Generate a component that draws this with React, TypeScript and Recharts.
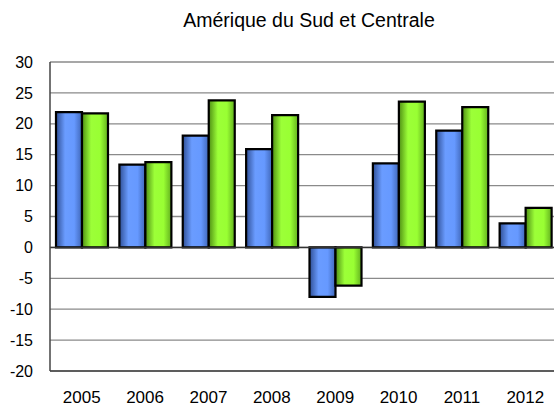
import React from 'react';
import { BarChart, Bar, XAxis, YAxis, CartesianGrid, ReferenceLine } from 'recharts';

const years = ['2005', '2006', '2007', '2008', '2009', '2010', '2011', '2012'];
const serieBleue = [21.9, 13.4, 18.1, 15.9, -8.0, 13.6, 18.9, 3.9];
const serieVerte = [21.7, 13.8, 23.8, 21.4, -6.2, 23.6, 22.7, 6.4];
const yTicks = [-20, -15, -10, -5, 0, 5, 10, 15, 20, 25, 30];

const data = years.map((year, i) => ({ year, bleu: serieBleue[i], vert: serieVerte[i] }));

const font = '"Liberation Sans", Arial, sans-serif';

export default function App() {
  return (
    <div style={{ position: 'absolute', left: 0, top: 0, width: 554, height: 408, overflow: 'hidden', background: '#fff' }}>
      <div
        style={{
          position: 'absolute',
          left: 0,
          width: 618,
          top: 9,
          textAlign: 'center',
          fontFamily: font,
          fontSize: 19.5,
          color: '#000',
        }}
      >
        Amérique du Sud et Centrale
      </div>
      <BarChart
        width={557}
        height={408}
        data={data}
        margin={{ top: 62, right: 0, left: 0, bottom: 0 }}
        barGap={0}
        barCategoryGap={6}
      >
        <defs>
          <linearGradient id="gradBleu" x1="0" y1="0" x2="1" y2="0">
            <stop offset="0%" stopColor="#2f4f96" />
            <stop offset="35%" stopColor="#6a9cff" />
            <stop offset="70%" stopColor="#6699ff" />
            <stop offset="100%" stopColor="#3f66b8" />
          </linearGradient>
          <linearGradient id="gradVert" x1="0" y1="0" x2="1" y2="0">
            <stop offset="0%" stopColor="#4f8f14" />
            <stop offset="35%" stopColor="#9cff38" />
            <stop offset="70%" stopColor="#99ff33" />
            <stop offset="100%" stopColor="#62b01e" />
          </linearGradient>
        </defs>
        <CartesianGrid vertical={false} stroke="#8a8a8a" strokeWidth={1.3} />
        <XAxis
          dataKey="year"
          axisLine={{ stroke: '#444', strokeWidth: 1.5 }}
          tickLine={false}
          tickSize={0}
          tickMargin={20}
          height={37}
          tick={{ fill: '#000', fontSize: 17, fontFamily: font }}
        />
        <YAxis
          domain={[-20, 30]}
          ticks={yTicks}
          interval={0}
          width={50}
          axisLine={{ stroke: '#444', strokeWidth: 1.5 }}
          tickLine={false}
          tickSize={0}
          tickMargin={17}
          tick={{ fill: '#000', fontSize: 16, fontFamily: font }}
        />
        <ReferenceLine y={0} stroke="#333" strokeWidth={1.5} />
        <Bar dataKey="bleu" fill="url(#gradBleu)" stroke="#000" strokeWidth={2.2} isAnimationActive={false} />
        <Bar dataKey="vert" fill="url(#gradVert)" stroke="#000" strokeWidth={2.2} isAnimationActive={false} />
      </BarChart>
    </div>
  );
}
